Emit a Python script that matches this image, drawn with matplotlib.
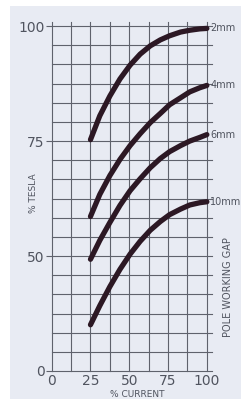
import numpy as np
import matplotlib
matplotlib.use("Agg")
import matplotlib.pyplot as plt
from matplotlib.patches import Rectangle

# ---- data ----
gaps = ["2mm", "4mm", "6mm", "10mm"]
x_cur = [25, 31, 37.5, 44, 50.5, 57, 63.5, 70, 76, 83, 89, 95.5, 100]
y_2mm = [75.3, 80.5, 84.8, 88.5, 91.5, 93.9, 95.7, 97.0, 97.9, 98.7, 99.1, 99.4, 99.5]
y_4mm = [58.6, 63.4, 67.5, 71.0, 74.0, 76.6, 79.0, 81.0, 82.9, 84.4, 85.7, 86.6, 87.1]
y_6mm = [48.6, 53.4, 57.3, 61.0, 64.2, 66.8, 69.2, 71.2, 72.7, 74.0, 75.0, 75.8, 76.4]
y_10mm = [20.1, 28.4, 36.7, 44.2, 50.4, 53.2, 55.6, 57.5, 59.0, 60.2, 61.1, 61.6, 61.8]
series_y = [y_2mm, y_4mm, y_6mm, y_10mm]
y_ticks = [0, 50, 75, 100]
x_ticks = [0, 25, 50, 75, 100]


def fwd(y):
    y = np.asarray(y, dtype=float)
    return np.where(y >= 50, y, 25 + y / 2.0)


def inv(t):
    t = np.asarray(t, dtype=float)
    return np.where(t >= 50, t, (t - 25) * 2.0)


fig = plt.figure(figsize=(2.41, 3.99), dpi=100)
fig.patch.set_facecolor("white")
bg = Rectangle((10 / 241, 0), 1 - 10 / 241, 1 - 6 / 399, transform=fig.transFigure,
               facecolor="#e8ebf3", edgecolor="none", zorder=-10)
fig.patches.append(bg)

ax = fig.add_axes([51.7 / 241, 1 - 371 / 399, (211.5 - 51.7) / 241, (371 - 21.5) / 399])
ax.set_facecolor("none")
ax.set_zorder(1)
ax.set_yscale("function", functions=(fwd, inv))
ax.set_xlim(0, 103)
ax.set_ylim(0, 101)

gridc = "#5f626c"
xg = np.arange(0, 100.01, 12.5)
yg = list(np.arange(0, 50, 50 / 6.0)) + list(np.arange(50, 100.01, 25 / 6.0))
for xv in xg:
    ax.axvline(xv, color=gridc, lw=0.8, zorder=1, clip_on=False)
for yv in yg:
    ax.axhline(yv, color=gridc, lw=0.8, zorder=1, clip_on=False)

for s in ax.spines.values():
    s.set_visible(False)

for ys in series_y:
    ax.plot(x_cur, ys, color="#2c1824", lw=3.8, solid_capstyle="round",
            solid_joinstyle="round", zorder=3)

txtc = "#50545f"
for name, ys in zip(gaps, series_y):
    ax.text(102.3, ys[-1], name, fontsize=7, color=txtc, va="center", ha="left",
            clip_on=False)

ax.set_yticks(y_ticks)
ax.set_yticklabels([str(v) for v in y_ticks])
ax.set_xticks(x_ticks)
ax.set_xticklabels([str(v) for v in x_ticks])
ax.tick_params(axis="y", length=4, width=0.8, color=gridc, labelsize=10,
               labelcolor=txtc, pad=1)
ax.tick_params(axis="x", length=0, labelsize=10, labelcolor=txtc, pad=2.5)

fig.text(33 / 241, 1 - 193 / 399, "% TESLA", rotation=90, fontsize=6.5, color=txtc,
         ha="center", va="center")
fig.text(228 / 241, 1 - 287 / 399, "POLE WORKING GAP", rotation=90, fontsize=7,
         color=txtc, ha="center", va="center")
fig.text(137 / 241, 1 - 394.5 / 399, "% CURRENT", fontsize=6.5, color=txtc,
         ha="center", va="center")

fig.savefig("out.png", dpi=100, facecolor=fig.get_facecolor())
